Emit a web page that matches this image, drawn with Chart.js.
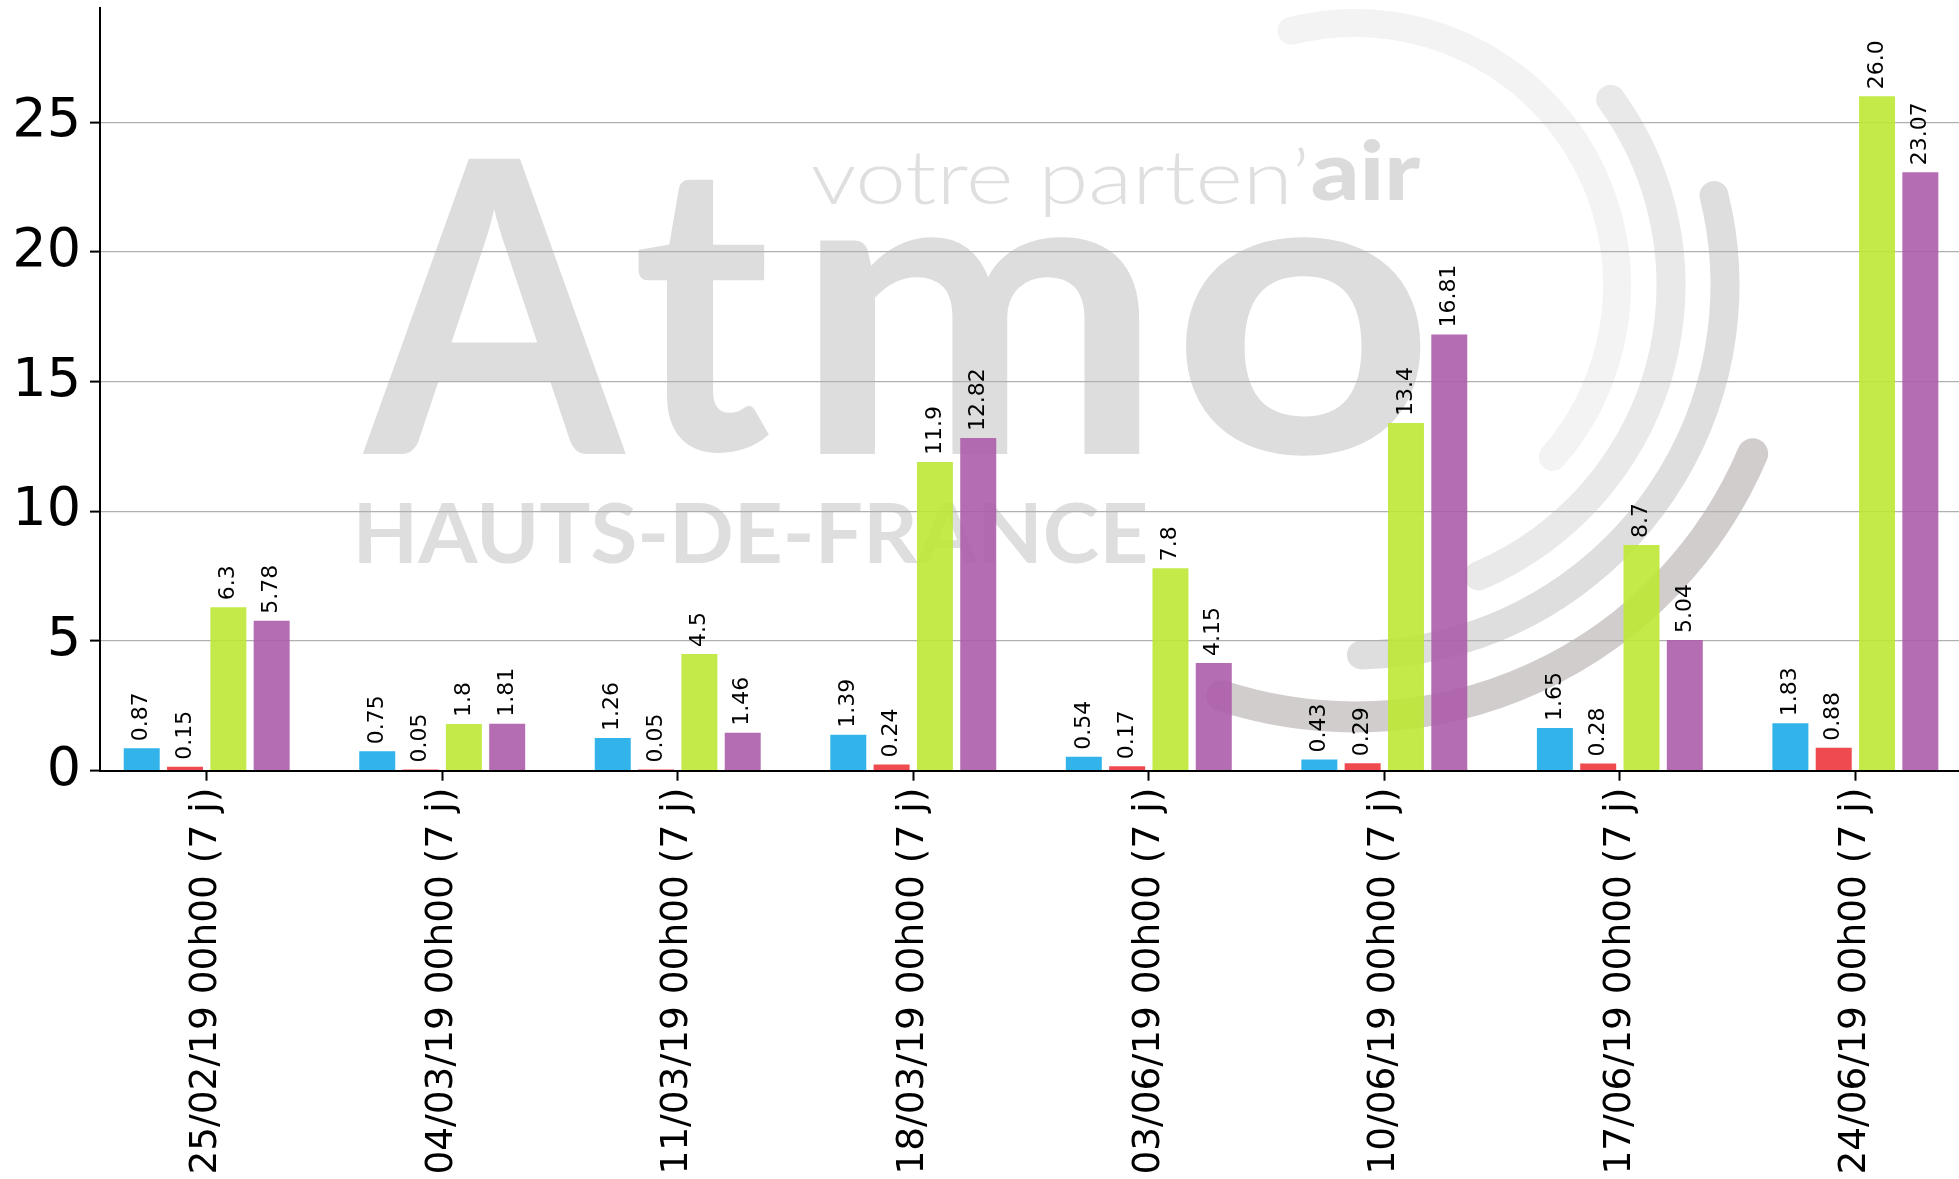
<!DOCTYPE html>
<html>
<head>
<meta charset="utf-8">
<script src="https://cdn.jsdelivr.net/npm/chart.js@4/dist/chart.umd.min.js"></script>
<style>
    html, body { margin: 0; padding: 0; background: #ffffff; overflow: hidden; }
    #wrap { width: 1959px; height: 1179px; }
</style>
</head>
<body>
<div id="wrap"><canvas id="chart" width="1959" height="1179"></canvas></div>
<script>
var categories = [
    '25/02/19 00h00 (7 j)', '04/03/19 00h00 (7 j)', '11/03/19 00h00 (7 j)', '18/03/19 00h00 (7 j)',
    '03/06/19 00h00 (7 j)', '10/06/19 00h00 (7 j)', '17/06/19 00h00 (7 j)', '24/06/19 00h00 (7 j)'
];
var blueValues = [0.87, 0.75, 1.26, 1.39, 0.54, 0.43, 1.65, 1.83];
var redValues = [0.15, 0.05, 0.05, 0.24, 0.17, 0.29, 0.28, 0.88];
var greenValues = [6.3, 1.8, 4.5, 11.9, 7.8, 13.4, 8.7, 26.0];
var purpleValues = [5.78, 1.81, 1.46, 12.82, 4.15, 16.81, 5.04, 23.07];
var yTicks = [0, 5, 10, 15, 20, 25];

function toPoints(values) {
    return values.map(function (v, i) { return { x: i, y: v }; });
}

// python-like str(float): 26.0 keeps its decimal
function fmtValue(v) {
    return Number.isInteger(v) ? v.toFixed(1) : String(v);
}

// draws a text stretched so that its ink fills the box x0..x1 / top..bottom
function fitBox(ctx, text, font, x0, x1, top, bottom, color) {
    ctx.font = font;
    var m = ctx.measureText(text);
    var inkW = m.actualBoundingBoxLeft + m.actualBoundingBoxRight;
    var inkH = m.actualBoundingBoxAscent + m.actualBoundingBoxDescent;
    var sx = (x1 - x0) / inkW;
    var sy = (bottom - top) / inkH;
    ctx.save();
    ctx.translate(x0, top);
    ctx.scale(sx, sy);
    ctx.fillStyle = color;
    ctx.textAlign = 'left';
    ctx.textBaseline = 'alphabetic';
    ctx.fillText(text, m.actualBoundingBoxLeft, m.actualBoundingBoxAscent);
    ctx.restore();
}

var watermark = {
    id: 'watermark',
    beforeDraw: function (chart) {
        var ctx = chart.ctx;
        ctx.save();
        // arcs of the logo
        var cx = 1355, cy = 285;
        var arcs = [
            { r: 262, a0: -104, a1: 41, w: 28, c: '#f3f3f3' },
            { r: 316, a0: -36, a1: 67, w: 29, c: '#e9e9e9' },
            { r: 370, a0: -14, a1: 89, w: 29, c: '#dedede' },
            { r: 432, a0: 23, a1: 108, w: 31, c: '#d2cdcd' }
        ];
        ctx.lineCap = 'round';
        arcs.forEach(function (a) {
            ctx.beginPath();
            ctx.arc(cx, cy, a.r, a.a0 * Math.PI / 180, a.a1 * Math.PI / 180);
            ctx.lineWidth = a.w;
            ctx.strokeStyle = a.c;
            ctx.stroke();
        });
        var big = 'bold 300px Lato';
        fitBox(ctx, 'A', big, 359, 627, 154, 454, '#dddddd');
        fitBox(ctx, 't', big, 638, 772, 179, 456, '#dddddd');
        fitBox(ctx, 'm', big, 814, 1146, 233, 454, '#dddddd');
        fitBox(ctx, 'o', big, 1185, 1423, 233, 459, '#dddddd');
        fitBox(ctx, 'HAUTS-DE-FRANCE', 'bold 80px Lato', 359, 1145, 502, 564, '#dedede');
        fitBox(ctx, 'votre parten\u2019', '300 80px Lato', 812, 1305, 145, 217, '#dfdfdf');
        fitBox(ctx, 'air', '900 80px Lato', 1312, 1420, 138, 201, '#dbdbdb');
        ctx.restore();
    }
};

var barLabels = {
    id: 'barLabels',
    afterDatasetsDraw: function (chart) {
        var ctx = chart.ctx;
        ctx.save();
        ctx.font = '22px "DejaVu Sans"';
        ctx.fillStyle = '#000000';
        ctx.textAlign = 'left';
        ctx.textBaseline = 'middle';
        chart.data.datasets.forEach(function (ds, di) {
            chart.getDatasetMeta(di).data.forEach(function (bar, i) {
                ctx.save();
                ctx.translate(bar.x, bar.y - 7);
                ctx.rotate(-Math.PI / 2);
                ctx.fillText(fmtValue(ds.data[i].y), 0, 0);
                ctx.restore();
            });
        });
        ctx.restore();
    }
};

function makeSet(label, values, color) {
    return {
        label: label,
        data: toPoints(values),
        backgroundColor: color,
        borderWidth: 0,
        categoryPercentage: 0.7356,
        barPercentage: 0.831
    };
}

console.log('Creating chart...');
var ctx = document.getElementById('chart').getContext('2d');
var chart = new Chart(ctx, {
    type: 'bar',
    data: {
        datasets: [
            makeSet('série 1', blueValues, 'rgba(28, 172, 232, 0.9)'),
            makeSet('série 2', redValues, 'rgba(237, 54, 61, 0.9)'),
            makeSet('série 3', greenValues, 'rgba(189, 232, 52, 0.9)'),
            makeSet('série 4', purpleValues, 'rgba(172, 92, 171, 0.9)')
        ]
    },
    options: {
        responsive: false,
        maintainAspectRatio: false,
        devicePixelRatio: 1,
        animation: false,
        layout: { padding: { top: 8, right: 0, left: 0, bottom: 0 } },
        plugins: {
            legend: { display: false },
            tooltip: { enabled: false }
        },
        scales: {
            x: {
                type: 'linear',
                offset: false,
                min: -0.453,
                max: 7.44,
                afterBuildTicks: function (axis) {
                    axis.ticks = categories.map(function (c, i) { return { value: i }; });
                },
                afterFit: function (axis) {
                    axis.height = 408.3;
                    axis.paddingLeft = 0;
                    axis.paddingRight = 0;
                },
                ticks: {
                    autoSkip: false,
                    minRotation: 90,
                    maxRotation: 90,
                    padding: 7,
                    color: '#000000',
                    font: { family: 'DejaVu Sans', size: 37.5 },
                    callback: function (value) { return categories[value]; }
                },
                grid: {
                    offset: false,
                    drawOnChartArea: false,
                    tickLength: 10,
                    tickWidth: 2,
                    tickColor: '#000000'
                },
                border: { color: '#000000', width: 2 }
            },
            y: {
                type: 'linear',
                min: 0,
                max: 29.4,
                afterBuildTicks: function (axis) {
                    axis.ticks = yTicks.map(function (v) { return { value: v }; });
                },
                afterFit: function (axis) {
                    axis.width = 100;
                    axis.paddingTop = 0;
                    axis.paddingBottom = 0;
                },
                ticks: {
                    padding: 9,
                    color: '#000000',
                    font: { family: 'DejaVu Sans', size: 54 }
                },
                grid: {
                    color: '#b0b0b0',
                    lineWidth: 1.2,
                    tickLength: 10,
                    tickWidth: 2,
                    tickColor: '#000000'
                },
                border: { color: '#000000', width: 2 }
            }
        }
    },
    plugins: [watermark, barLabels]
});
console.log('Chart created.');
</script>
</body>
</html>
